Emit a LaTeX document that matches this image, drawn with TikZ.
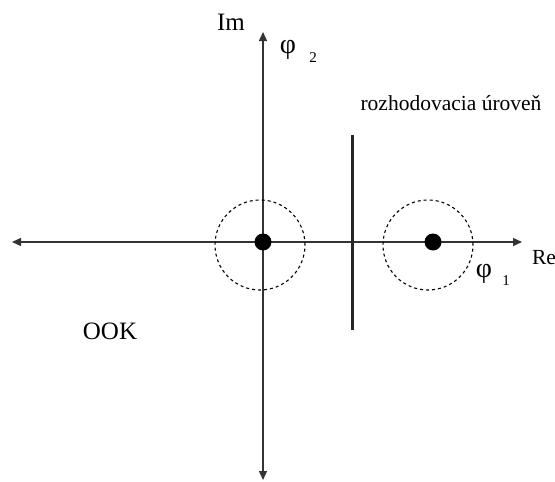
\documentclass[tikz,border=0pt]{standalone}
\usepackage{fontspec}
\setmainfont{Liberation Serif}
\usetikzlibrary{arrows.meta}
\begin{document}
\begin{tikzpicture}[x=1pt,y=-1pt,
  axis/.style={line width=1.4pt,draw=black!80,-{Triangle[length=9pt,width=8pt]}},
  noise/.style={circle,draw,dash pattern=on 3pt off 3pt,line width=1.1pt,minimum size=90pt,inner sep=0pt},
  symb/.style={circle,fill=black,minimum size=17pt,inner sep=0pt},
  lbl/.style={font=\fontsize{21.5}{24}\selectfont,inner sep=0pt},
  big/.style={font=\fontsize{25}{28}\selectfont,inner sep=0pt},
  phi/.style={font=\fontsize{28}{30}\selectfont,inner sep=0pt},
  sub/.style={font=\fontsize{15}{17}\selectfont,inner sep=0pt}]
\useasboundingbox (0,0) rectangle (555,482);
\coordinate (o) at (263,242);
\coordinate (l) at (12,242);
\coordinate (r) at (522,242);
\coordinate (t) at (263,32);
\coordinate (b) at (263,480);
\draw[axis] (o) -- (l);
\draw[axis] (o) -- (r);
\draw[axis] (o) -- (t);
\draw[axis] (o) -- (b);
\node[noise] (c0) at (260,245) {};
\node[noise] (c1) at (428,245) {};
\node[symb] (s0) at (o) {};
\node[symb] (s1) at (433,242) {};
\coordinate (dt) at (352,135);
\coordinate (db) at (352,330);
\draw[line width=3pt,draw=black!85] (dt) -- (db);
\node[big] (im) at (231,22) {Im};
\node[lbl] (re) at (544,258) {Re};
\node[phi] (p2) at (288,50) {φ};
\node[sub] (p2s) at (313,58) {2};
\node[phi] (p1) at (484,274) {φ};
\node[sub] (p1s) at (506,281) {1};
\node[lbl] (dec) at (451,103) {rozhodovacia úroveň};
\node[big] (ook) at (110,331) {OOK};
\end{tikzpicture}
\end{document}
